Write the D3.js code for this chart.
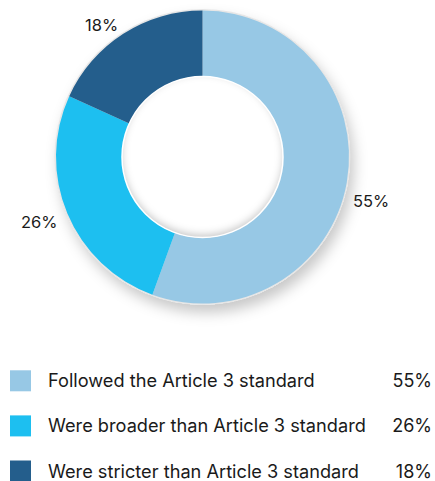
<!DOCTYPE html>
<html><head><meta charset="utf-8">
<script src="https://cdn.jsdelivr.net/npm/d3@7"></script>
<style>body{margin:0;background:#fff}svg{display:block}</style>
</head><body>
<svg id="c" width="435" height="481"></svg>
<script>
const categories = ["Followed the Article 3 standard","Were broader than Article 3 standard","Were stricter than Article 3 standard"];
const values = [55, 26, 18];
const valueLabels = ["55%","26%","18%"];
const colors = ["#97C8E5","#1DBFF0","#245E8C"];

const svg = d3.select("#c");
const font = "Inter, 'Liberation Sans', Arial, sans-serif";
const cx = 202.5, cy = 157, R = 146.5, r = 80.5;

const defs = svg.append("defs");
const f = defs.append("filter").attr("id","sh").attr("x","-20%").attr("y","-20%").attr("width","150%").attr("height","150%");
f.append("feDropShadow").attr("dx",4).attr("dy",8).attr("stdDeviation",7).attr("flood-color","#000").attr("flood-opacity",0.22);
const fi = defs.append("filter").attr("id","ish").attr("x","-20%").attr("y","-20%").attr("width","140%").attr("height","140%");
fi.append("feGaussianBlur").attr("stdDeviation",4);

const pie = d3.pie().sort(null).value(d => d)(values);
const arc = d3.arc().innerRadius(r).outerRadius(R);
const g = svg.append("g").attr("transform",`translate(${cx},${cy})`);

g.append("circle").attr("r",R+1).attr("fill","#fff").attr("filter","url(#sh)");
g.append("circle").attr("r",R+1.5).attr("fill","#e6e6e6");
g.selectAll("path.s").data(pie).join("path").attr("class","s")
  .attr("d",arc).attr("fill",(d,i)=>colors[i]);
const clip = defs.append("clipPath").attr("id","hc");
clip.append("circle").attr("cx",0).attr("cy",0).attr("r",r);
g.append("circle").attr("r",r).attr("fill","#fff");
const hg = g.append("g").attr("clip-path","url(#hc)");
hg.append("circle").attr("r",r+6).attr("cy",-3).attr("fill","none").attr("stroke","#000").attr("stroke-opacity",0.25).attr("stroke-width",10).attr("filter","url(#ish)");
g.append("circle").attr("r",r).attr("fill","none").attr("stroke","#fff").attr("stroke-width",1.5);

const labelPos = [[353,206.5],[21,228],[85,31]];
svg.selectAll("text.pl").data(valueLabels).join("text").attr("class","pl")
  .attr("x",(d,i)=>labelPos[i][0]).attr("y",(d,i)=>labelPos[i][1])
  .attr("font-family",font).attr("font-size",16.5).attr("fill","#1a1a1a").text(d=>d);

const ly = d3.scaleLinear().domain([0,2]).range([380.8, 471]);
const lg = svg.selectAll("g.lg").data(categories).join("g").attr("class","lg")
  .attr("transform",(d,i)=>`translate(0,${ly(i)})`);
lg.append("rect").attr("x",10).attr("y",-10.5).attr("width",21).attr("height",21).attr("fill",(d,i)=>colors[i]);
lg.append("text").attr("x",48).attr("y",6.5).attr("font-family",font).attr("font-size",18.2).attr("fill","#1a1a1a").text(d=>d);
lg.append("text").attr("x",432).attr("y",6.5).attr("text-anchor","end").attr("font-family",font).attr("font-size",18).attr("fill","#1a1a1a").text((d,i)=>valueLabels[i]);
</script>
</body></html>
